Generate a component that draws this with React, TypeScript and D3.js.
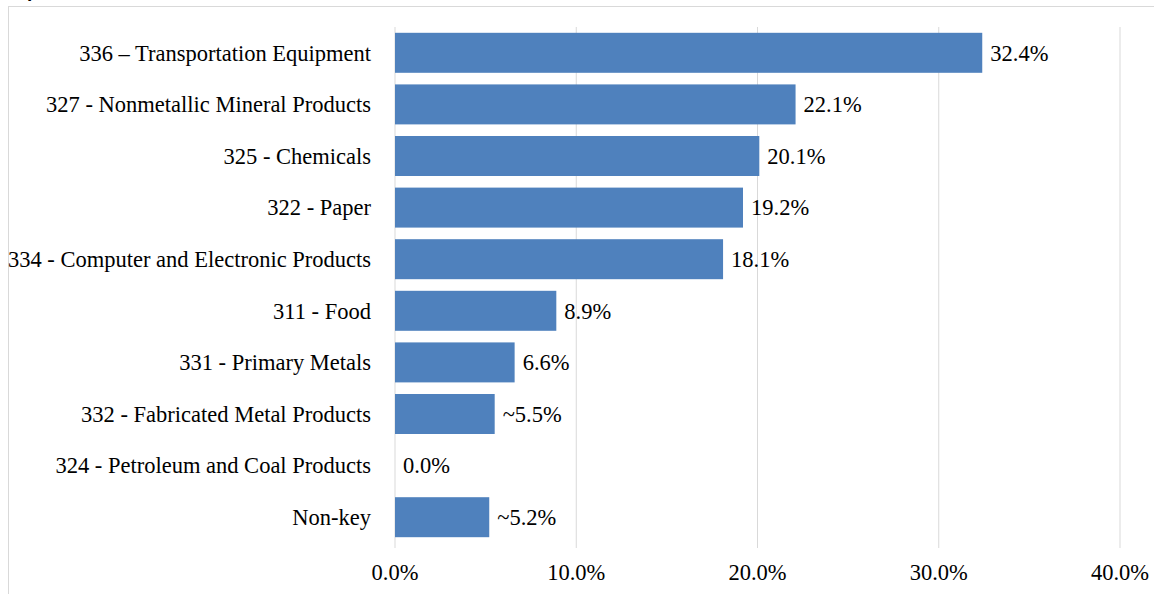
import React from "react";
import * as d3 from "d3";

const categories = [
  "336 – Transportation Equipment",
  "327 - Nonmetallic Mineral Products",
  "325 - Chemicals",
  "322 - Paper",
  "334 - Computer and Electronic Products",
  "311 - Food",
  "331 - Primary Metals",
  "332 - Fabricated Metal Products",
  "324 - Petroleum and Coal Products",
  "Non-key",
];
const values = [32.4, 22.1, 20.1, 19.2, 18.1, 8.9, 6.6, 5.5, 0.0, 5.2];
const valueLabels = ["32.4%", "22.1%", "20.1%", "19.2%", "18.1%", "8.9%", "6.6%", "~5.5%", "0.0%", "~5.2%"];
const ticks = [0, 10, 20, 30, 40];

const W = 1154;
const H = 594;
const FONT = "'Liberation Serif', 'Times New Roman', serif";
const FS = 22.5;

export default function App() {
  const x = d3.scaleLinear().domain([0, 40]).range([395, 1120]);
  const y = d3.scaleBand<string>().domain(categories).range([27, 543]).paddingInner(0.225).paddingOuter(0.1125);
  return (
    <svg width={W} height={H} style={{ position: "absolute", left: 0, top: 0 }}>
      <rect x={0} y={0} width={W} height={H} fill="#fff" />
      <text x={27} y={-3} fontFamily="Arial, 'Liberation Sans', sans-serif" fontWeight="bold" fontSize={19} fill="#000">
        performance
      </text>
      <rect x={8.5} y={6.5} width={W + 10} height={H + 10} fill="#fff" stroke="#d9d9d9" strokeWidth={1} />
      {ticks.map((t) => (
        <line key={t} x1={x(t)} x2={x(t)} y1={27} y2={548} stroke="#d9d9d9" strokeWidth={1} />
      ))}
      {categories.map((c, i) => (
        <rect key={c} x={x(0)} y={y(c)!} width={x(values[i]) - x(0)} height={y.bandwidth()} fill="#4f81bd" />
      ))}
      {categories.map((c, i) => (
        <text key={"c" + c} x={371} y={y(c)! + y.bandwidth() / 2} dy="0.35em" textAnchor="end" fontFamily={FONT} fontSize={FS} fill="#000">
          {c}
        </text>
      ))}
      {categories.map((c, i) => (
        <text key={"v" + c} x={x(values[i]) + 8} y={y(c)! + y.bandwidth() / 2} dy="0.35em" textAnchor="start" fontFamily={FONT} fontSize={FS} fill="#000">
          {valueLabels[i]}
        </text>
      ))}
      {ticks.map((t) => (
        <text key={"t" + t} x={x(t)} y={572} dy="0.35em" textAnchor="middle" fontFamily={FONT} fontSize={FS} fill="#000">
          {t.toFixed(1) + "%"}
        </text>
      ))}
    </svg>
  );
}
